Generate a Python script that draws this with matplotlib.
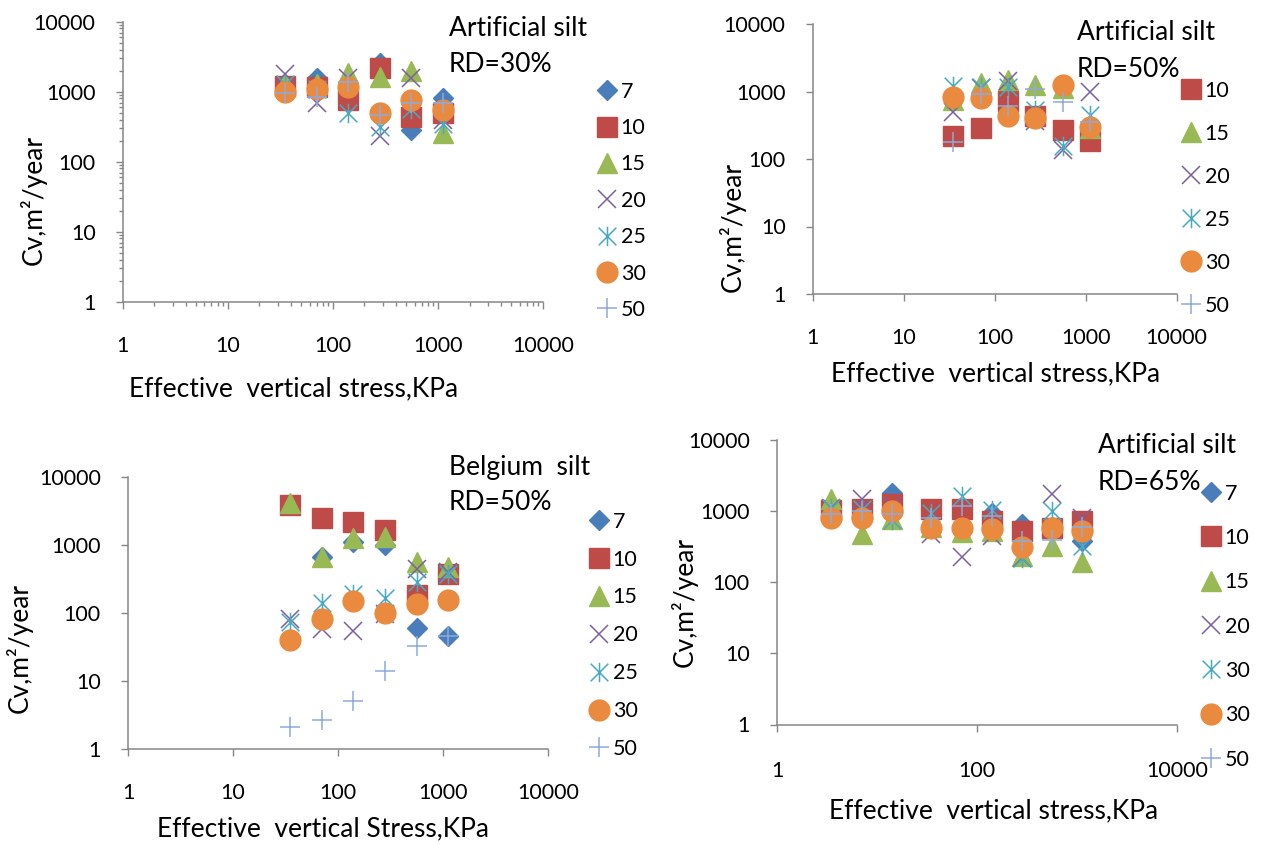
import numpy as np
import matplotlib
matplotlib.use('Agg')
import matplotlib.pyplot as plt
from matplotlib.path import Path
from matplotlib.ticker import LogLocator, NullFormatter, NullLocator

W, H = 1268, 844
plt.rcParams['font.family'] = ['Lato', 'DejaVu Sans']
plt.rcParams['font.size'] = 15.5
LABEL_SIZE = 19

# loading steps, kPa
stress = [35, 70, 140, 280, 560, 1120]
stress_65 = [3.5, 7, 14, 35, 70, 140, 280, 560, 1120]

# Artificial silt, RD=30%  (Cv, m2/year)
rd30_7 = [1150, 1550, 1100, 2600, 280, 800]
rd30_10 = [1200, 1150, 760, 2150, 440, 490]
rd30_15 = [1350, 1300, 1820, 1630, 2000, 255]
rd30_20 = [1800, 700, 1550, 230, 1550, 400]
rd30_25 = [1300, 1100, 490, 316, 575, 350]
rd30_30 = [1000, 1100, 1150, 500, 760, 550]
rd30_50 = [950, 850, 1390, 465, 700, 680]

# Artificial silt, RD=50%
rd50_10 = [217, 290, 720, 430, 270, 183]
rd50_15 = [750, 1350, 1500, 1260, 1130, 290]
rd50_20 = [495, 1120, 1420, 360, 138, 980]
rd50_25 = [1200, 1150, 1150, 540, 155, 455]
rd50_30 = [830, 810, 430, 405, 1230, 295]
rd50_50 = [177, 920, 620, 1090, 700, 350]

# Belgium silt, RD=50%
bel_7 = [np.nan, 670, 1110, 1000, 61, 46]
bel_10 = [3870, 2500, 2200, 1660, 183, 380]
bel_15 = [4200, 670, 1250, 1330, 570, 480]
bel_20 = [83, 59, 55, 98, 450, 400]
bel_25 = [75, 141, 194, 165, 290, 370]
bel_30 = [40, 81, 150, 99, 138, 155]
bel_50 = [2.1, 2.7, 5.1, 14, 33, 46]

# Artificial silt, RD=65%
rd65_7 = [1000, 1000, 1780, 1000, 1000, 940, 650, 600, 380]
rd65_10 = [1040, 1070, 1230, 1070, 1070, 720, 520, 575, 720]
rd65_15 = [1440, 465, 760, 600, 500, 520, 235, 320, 190]
rd65_20 = [1100, 1440, 1150, 465, 225, 445, 220, 1730, 800]
rd65_30a = [1100, 1070, 735, 940, 1600, 1040, 220, 1000, 320]
rd65_30b = [780, 790, 990, 570, 570, 550, 305, 570, 520]
rd65_50 = [900, 1000, 900, 800, 1170, 840, 380, 385, 590]

ticks = [1, 10, 100, 1000, 10000]
ticks_65 = [1, 100, 10000]

star = Path([(-0.5, -0.5), (0.5, 0.5), (-0.5, 0.5), (0.5, -0.5), (0, -0.55), (0, 0.55)],
            [Path.MOVETO, Path.LINETO] * 3)

STYLE = {
    'diamond': dict(marker='D', ms=10.5, color='#4A7EBB', mec='#4A7EBB'),
    'square': dict(marker='s', ms=14.5, color='#BE4B48', mec='#BE4B48'),
    'triangle': dict(marker='^', ms=15, color='#98B954', mec='#98B954'),
    'x': dict(marker='x', ms=13.5, color='#7D60A0', mew=1.1),
    'star': dict(marker=star, ms=14, color='#46AAC5', mfc='none', mew=1.1),
    'circle': dict(marker='o', ms=15, color='#E98A3E', mec='#E98A3E'),
    'plus': dict(marker='+', ms=14, color='#8EAADB', mew=1.1),
}
GREY = '#868686'

fig = plt.figure(figsize=(W / 100, H / 100), dpi=100)


def rect(l, t, r, b):
    return [l / W, 1 - b / H, (r - l) / W, (b - t) / H]


def fxy(x, y):
    return x / W, 1 - y / H


def panel(box, x, series, xticks, minor, notes, note_x, note_ys, xlabel, xlab_xy, ylab_xy,
          leg_xy, leg_space, xpad):
    ax = fig.add_axes(rect(*box))
    for label, kind, vals in series:
        ax.plot(x, vals, linestyle='none', label=label, **STYLE[kind])
    ax.set_xscale('log')
    ax.set_yscale('log')
    ax.set_xlim(1, 10000)
    ax.set_ylim(1, 10000)
    ax.set_xticks(xticks, [str(t) for t in xticks])
    ax.set_yticks(ticks, [str(t) for t in ticks])
    if minor:
        ax.xaxis.set_minor_locator(LogLocator(base=10, subs=np.arange(2, 10)))
        ax.yaxis.set_minor_locator(LogLocator(base=10, subs=np.arange(2, 10)))
        ax.xaxis.set_minor_formatter(NullFormatter())
        ax.yaxis.set_minor_formatter(NullFormatter())
        ax.tick_params(which='minor', length=3, width=1, color=GREY)
    else:
        ax.xaxis.set_minor_locator(NullLocator())
        ax.yaxis.set_minor_locator(NullLocator())
    ax.tick_params(which='major', length=5, width=1, color=GREY)
    ax.tick_params(axis='x', pad=xpad)
    ax.tick_params(axis='y', pad=14.5)
    for s in ('top', 'right'):
        ax.spines[s].set_visible(False)
    for s in ('left', 'bottom'):
        ax.spines[s].set_color(GREY)
        ax.spines[s].set_linewidth(1.1)

    for line, ny in zip(notes, note_ys):
        fig.text(*fxy(note_x, ny), line, va='center', ha='left', fontsize=LABEL_SIZE)
    fig.text(*fxy(*xlab_xy), xlabel, ha='center', va='center', fontsize=LABEL_SIZE)
    fig.text(*fxy(*ylab_xy), 'Cv,m\u00b2/year', ha='center', va='center', rotation=90,
             fontsize=LABEL_SIZE)
    ax.legend(loc='upper left', bbox_to_anchor=fxy(*leg_xy), bbox_transform=fig.transFigure,
              frameon=False, borderpad=0, borderaxespad=0, handlelength=1.0,
              handletextpad=0.15, labelspacing=leg_space, numpoints=1)
    return ax


panel((122.7, 21.7, 543, 301.7), stress,
      [('7', 'diamond', rd30_7), ('10', 'square', rd30_10), ('15', 'triangle', rd30_15),
       ('20', 'x', rd30_20), ('25', 'star', rd30_25), ('30', 'circle', rd30_30),
       ('50', 'plus', rd30_50)],
      ticks, True, ['Artificial silt', 'RD=30%'], 449, [29, 65],
      'Effective  vertical stress,KPa', (294, 389), (33, 200), (596, 81.7), 0.76, 19.5)

panel((812.7, 24, 1176.7, 294), stress,
      [('10', 'square', rd50_10), ('15', 'triangle', rd50_15), ('20', 'x', rd50_20),
       ('25', 'star', rd50_25), ('30', 'circle', rd50_30), ('50', 'plus', rd50_50)],
      ticks, False, ['Artificial silt', 'RD=50%'], 1077, [32.4, 69.2],
      'Effective  vertical stress,KPa', (996, 374), (732, 227), (1180, 80.6), 1.07, 19.5)

panel((128, 477, 548, 749.3), stress,
      [('7', 'diamond', bel_7), ('10', 'square', bel_10), ('15', 'triangle', bel_15),
       ('20', 'x', bel_20), ('25', 'star', bel_25), ('30', 'circle', bel_30),
       ('50', 'plus', bel_50)],
      ticks, False, ['Belgium  silt', 'RD=50%'], 449, [467, 503],
      'Effective  vertical Stress,KPa', (323, 829), (19, 648), (588, 511.7), 0.83, 19.5)

panel((777, 439.5, 1177, 724.5), stress_65,
      [('7', 'diamond', rd65_7), ('10', 'square', rd65_10), ('15', 'triangle', rd65_15),
       ('20', 'x', rd65_20), ('30', 'star', rd65_30a), ('30', 'circle', rd65_30b),
       ('50', 'plus', rd65_50)],
      ticks_65, False, ['Artificial silt', 'RD=65%'], 1098, [446, 482.6],
      'Effective  vertical stress,KPa', (994, 811), (684, 602), (1200, 483.6), 1.13, 21.5)

fig.savefig('out.png', dpi=100)
